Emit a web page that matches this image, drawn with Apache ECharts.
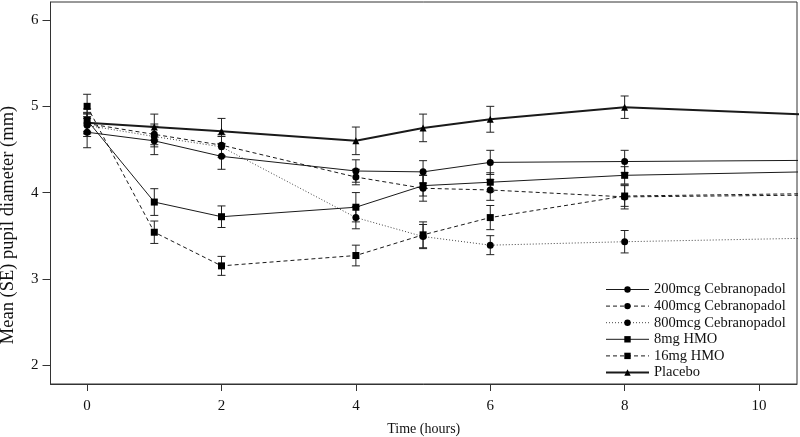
<!DOCTYPE html>
<html>
<head>
<meta charset="utf-8">
<script src="https://cdn.jsdelivr.net/npm/echarts@6/dist/echarts.min.js"></script>
<style>html,body{margin:0;padding:0;background:#fff}#c{width:800px;height:437px}</style>
</head>
<body>
<div id="c"></div>
<script>
// ---- data ----
const hours = [0, 1, 2, 4, 5, 6, 8, 12];
const seriesNames = ['200mcg Cebranopadol', '400mcg Cebranopadol', '800mcg Cebranopadol', '8mg HMO', '16mg HMO', 'Placebo'];
const cebra200 = [4.70, 4.60, 4.42, 4.25, 4.24, 4.35, 4.36, 4.38];
const cebra200SE = [0.18, 0.16, 0.15, 0.13, 0.13, 0.14, 0.13, 0.12];
const cebra400 = [4.80, 4.675, 4.55, 4.18, 4.05, 4.03, 3.95, 3.98];
const cebra400SE = [0.12, 0.12, 0.12, 0.09, 0.15, 0.12, 0.14, 0.12];
const cebra800 = [4.78, 4.65, 4.53, 3.71, 3.49, 3.39, 3.43, 3.49];
const cebra800SE = [0.13, 0.12, 0.12, 0.13, 0.14, 0.11, 0.13, 0.12];
const hmo8 = [4.84, 3.89, 3.72, 3.83, 4.08, 4.12, 4.20, 4.26];
const hmo8SE = [0.13, 0.155, 0.125, 0.17, 0.12, 0.11, 0.10, 0.12];
const hmo16 = [5.00, 3.54, 3.15, 3.27, 3.51, 3.71, 3.96, 4.00];
const hmo16SE = [0.14, 0.13, 0.11, 0.12, 0.15, 0.14, 0.12, 0.12];
const placebo = [4.81, 4.76, 4.71, 4.60, 4.75, 4.85, 4.99, 4.865];
const placeboSE = [0.12, 0.15, 0.15, 0.16, 0.16, 0.15, 0.13, 0.12];
const xTicks = [0, 2, 4, 6, 8, 10];
const yTicks = [2, 3, 4, 5, 6];
const yTitle = 'Mean (SE) pupil diameter (mm)';
const xTitle = 'Time (hours)';

// ---- chart ----
const FONT = 'Liberation Serif';
const INK = '#1a1a1a';
const groups = [
  {name: seriesNames[0], v: cebra200, se: cebra200SE, sym: 'circle', type: 'solid', w: 1, c: INK},
  {name: seriesNames[1], v: cebra400, se: cebra400SE, sym: 'circle', type: [4, 3], w: 1, c: INK},
  {name: seriesNames[2], v: cebra800, se: cebra800SE, sym: 'circle', type: [1, 2], w: 1, c: '#444'},
  {name: seriesNames[3], v: hmo8, se: hmo8SE, sym: 'rect', type: 'solid', w: 1, c: INK},
  {name: seriesNames[4], v: hmo16, se: hmo16SE, sym: 'rect', type: [4, 3], w: 1, c: INK},
  {name: seriesNames[5], v: placebo, se: placeboSE, sym: 'triangle', type: 'solid', w: 2, c: INK}
];

const series = [];
groups.forEach(g => {
  series.push({
    name: g.name, type: 'line', clip: true,
    data: hours.map((h, i) => [h, g.v[i]]),
    symbol: g.sym, symbolSize: 7, showSymbol: true,
    lineStyle: {color: g.c, width: g.w, type: g.type},
    itemStyle: {color: '#000'},
    z: 3, animation: false
  });
  series.push({
    type: 'custom', clip: true, silent: true, z: 2,
    data: hours.map((h, i) => [h, g.v[i] - g.se[i], g.v[i] + g.se[i]]),
    renderItem: (params, api) => {
      const lo = api.coord([api.value(0), api.value(1)]);
      const hi = api.coord([api.value(0), api.value(2)]);
      const hw = 4;
      const st = {stroke: '#222', lineWidth: 1};
      return {type: 'group', children: [
        {type: 'line', shape: {x1: lo[0], y1: lo[1], x2: hi[0], y2: hi[1]}, style: st},
        {type: 'line', shape: {x1: lo[0] - hw, y1: lo[1], x2: lo[0] + hw, y2: lo[1]}, style: st},
        {type: 'line', shape: {x1: hi[0] - hw, y1: hi[1], x2: hi[0] + hw, y2: hi[1]}, style: st}
      ]};
    },
    animation: false
  });
});

const chart = echarts.init(document.getElementById('c'), null, {renderer: 'canvas'});
chart.setOption({
  animation: false,
  backgroundColor: '#fff',
  textStyle: {fontFamily: FONT},
  grid: {left: 50.5, right: 3, top: 2, bottom: 53, show: true, borderColor: '#333', borderWidth: 1,
         containLabel: false, outerBoundsMode: 'none'},
  graphic: [{
    type: 'text', x: 8, y: 225, rotation: Math.PI / 2, silent: true,
    style: {text: yTitle, font: '18.5px "Liberation Serif"', fill: '#111', align: 'center', verticalAlign: 'middle'}
  }],
  legend: {
    orient: 'vertical', left: 605, top: 282, padding: 0,
    itemWidth: 43, itemHeight: 8, itemGap: 1.6,
    data: groups.map(g => ({name: g.name, lineStyle: {width: g.w, type: g.type, color: g.c}})),
    textStyle: {fontFamily: FONT, fontSize: 14.5, color: '#111', lineHeight: 14}
  },
  xAxis: {
    type: 'value', min: -0.545, max: 10.565,
    name: xTitle, nameLocation: 'middle', nameGap: 38,
    nameTextStyle: {fontFamily: FONT, fontSize: 14, color: '#111'},
    axisLine: {show: true, onZero: false, lineStyle: {color: '#333'}},
    axisTick: {show: true, length: 7, customValues: xTicks, lineStyle: {color: '#333'}},
    axisLabel: {customValues: xTicks, fontFamily: FONT, fontSize: 15, color: '#111', margin: 15},
    splitLine: {show: false}
  },
  yAxis: {
    type: 'value', min: 1.78, max: 6.21,
    axisLine: {show: true, onZero: false, lineStyle: {color: '#333'}},
    axisTick: {show: true, length: 8, customValues: yTicks, lineStyle: {color: '#333'}},
    axisLabel: {customValues: yTicks, fontFamily: FONT, fontSize: 15, color: '#111', margin: 12},
    splitLine: {show: false}
  },
  series: series
});
</script>
</body>
</html>
